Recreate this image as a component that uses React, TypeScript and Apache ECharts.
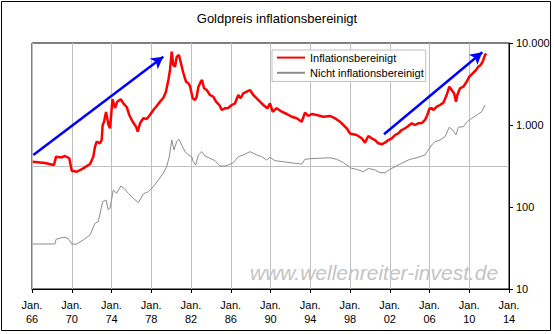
import React, { useEffect, useRef } from "react";
import * as echarts from "echarts";

const titleText = "Goldpreis inflationsbereinigt";
const seriesNames = ["Inflationsbereinigt", "Nicht inflationsbereinigt"];
const watermark = "www.wellenreiter-invest.de";

const xMin = 1966;
const xMax = 2014;
const xStep = 4;
const yMin = 10;
const yMax = 10000;
const refLevel = 316;

const realYears = [
  1966.07, 1967.31, 1968.21, 1968.42, 1968.99, 1969.32, 1969.75, 1970.0, 1970.5, 1971.16,
  1971.84, 1972.17, 1972.34, 1972.51, 1972.84, 1973.01, 1973.11, 1973.25, 1973.45, 1973.7,
  1973.85, 1974.1, 1974.35, 1974.58, 1974.93, 1975.19, 1975.53, 1975.79, 1976.13, 1976.47,
  1976.64, 1976.87, 1977.2, 1977.54, 1977.87, 1978.21, 1978.55, 1978.88, 1979.21, 1979.48,
  1979.72, 1979.89, 1980.06, 1980.22, 1980.39, 1980.56, 1980.79, 1980.99, 1981.23, 1981.5,
  1981.73, 1981.9, 1982.17, 1982.4, 1982.57, 1982.74, 1982.98, 1983.11, 1983.31, 1983.58,
  1983.91, 1984.24, 1984.52, 1984.85, 1985.09, 1985.42, 1985.75, 1986.1, 1986.43, 1986.76,
  1987.0, 1987.26, 1987.61, 1987.94, 1988.27, 1988.61, 1988.94, 1989.28, 1989.68, 1989.95,
  1990.22, 1990.62, 1991.13, 1991.63, 1992.13, 1992.64, 1993.14, 1993.47, 1993.8, 1994.15,
  1994.65, 1995.31, 1995.99, 1996.49, 1996.99, 1997.33, 1997.67, 1998.0, 1998.67, 1999.18,
  1999.51, 1999.84, 2000.18, 2000.52, 2000.85, 2001.19, 2001.52, 2001.86, 2002.2, 2002.53,
  2002.86, 2003.2, 2003.54, 2003.87, 2004.21, 2004.54, 2004.87, 2005.25, 2005.55, 2005.78,
  2005.98, 2006.22, 2006.38, 2006.73, 2007.06, 2007.39, 2007.73, 2007.99, 2008.23, 2008.47,
  2008.67, 2008.8, 2009.07, 2009.4, 2009.74, 2010.01, 2010.35, 2010.68, 2010.91, 2011.15,
  2011.35, 2011.59, 2011.69,
];
const realValues = [
  357, 344, 325, 411, 402, 419, 393, 277, 269, 296,
  334, 411, 544, 626, 598, 656, 1000, 1097, 1440, 1000,
  912, 2076, 1612, 1924, 2058, 1839, 1658, 1324, 1097, 954,
  829, 1049, 1207, 1184, 1324, 1524, 1705, 1924, 2135, 2547,
  3538, 4685, 7832, 5392, 5140, 6750, 7140, 5655, 4307, 3373,
  3225, 2989, 2117, 2018, 2214, 2906, 3373, 3538, 2803, 2672,
  2322, 2214, 1924, 1753, 1524, 1599, 1612, 1753, 1839, 2322,
  2117, 2436, 2547, 2672, 2322, 2117, 1924, 1753, 1599, 1839,
  1453, 1599, 1453, 1362, 1262, 1207, 1097, 1413, 1288, 1362,
  1324, 1262, 1288, 1207, 1097, 1000, 912, 788, 755, 688,
  608, 734, 688, 656, 598, 582, 608, 656, 688, 755,
  792, 869, 912, 972, 1049, 1000, 1049, 1058, 1151, 1324,
  1567, 1612, 1524, 1672, 1753, 1871, 2322, 2932, 2672, 2436,
  1924, 2322, 2803, 2932, 3373, 3882, 4271, 4685, 5140, 5392,
  5916, 7140, 7488,
];

const nominalYears = [
  1966.07, 1968.31, 1968.42, 1969.12, 1969.42, 1969.72, 1970.0, 1970.43, 1971.16, 1971.84,
  1972.34, 1972.67, 1973.11, 1973.45, 1973.68, 1973.85, 1974.18, 1974.52, 1974.93, 1975.26,
  1975.69, 1976.19, 1976.7, 1977.2, 1977.7, 1978.21, 1978.71, 1979.21, 1979.55, 1979.82,
  1980.06, 1980.29, 1980.56, 1980.79, 1981.06, 1981.4, 1981.73, 1982.07, 1982.23, 1982.47,
  1982.74, 1983.08, 1983.41, 1983.91, 1984.42, 1984.92, 1985.42, 1985.92, 1986.26, 1986.76,
  1987.26, 1987.94, 1988.61, 1989.11, 1989.62, 1989.95, 1990.45, 1991.29, 1991.96, 1993.14,
  1993.47, 1993.98, 1994.98, 1995.99, 1996.66, 1997.33, 1997.83, 1998.17, 1998.67, 1999.34,
  1999.84, 2000.52, 2001.02, 2001.52, 2002.03, 2002.53, 2003.03, 2003.54, 2004.04, 2004.54,
  2005.04, 2005.55, 2005.88, 2006.22, 2006.55, 2007.06, 2007.56, 2007.99, 2008.34, 2008.67,
  2008.9, 2009.4, 2009.8, 2010.25, 2010.75, 2011.25, 2011.59,
];
const nominalValues = [
  35.4, 35.4, 40.4, 42.7, 42.5, 40.1, 35.4, 35.1, 39.6, 45.6,
  63.3, 66.2, 116, 122, 91.9, 96.4, 161, 147, 180, 169,
  147, 128, 113, 144, 154, 177, 213, 258, 310, 411,
  656, 496, 626, 669, 570, 473, 431, 411, 357, 325,
  431, 473, 419, 393, 367, 316, 316, 332, 347, 411,
  431, 473, 431, 411, 374, 404, 367, 357, 347, 334,
  382, 388, 393, 399, 382, 347, 316, 296, 288, 269,
  296, 283, 262, 262, 288, 310, 334, 357, 382, 393,
  411, 431, 496, 570, 626, 656, 720, 938, 869, 755,
  938, 954, 1097, 1207, 1324, 1453, 1753,
];

// Trend arrows (annotation), in data coordinates
const arrowStarts = [
  [1966.13, 431],
  [2001.42, 770],
];
const arrowEnds = [
  [1979.21, 6808],
  [2011.31, 7702],
];

const FONT = '"Liberation Sans", Arial, sans-serif';

function fmtDe(v: number): string {
  return String(Math.round(v)).replace(/\B(?=(\d{3})+(?!\d))/g, ".");
}

export default function App() {
  const ref = useRef<HTMLDivElement>(null);
  useEffect(() => {
    document.body.style.margin = "0";
    if (!ref.current) return;
    const chart = echarts.init(ref.current, undefined, { renderer: "svg" });
    const realData = realYears.map((y, i) => [y, realValues[i]]);
    const nomData = nominalYears.map((y, i) => [y, nominalValues[i]]);
    chart.setOption({
      animation: false,
      backgroundColor: "#fff",
      textStyle: { fontFamily: FONT },
      title: {
        text: titleText,
        left: "center",
        top: 12,
        padding: 0,
        textStyle: { fontFamily: FONT, fontSize: 13, fontWeight: "normal", color: "#000" },
      },
      legend: {
        data: seriesNames,
        orient: "vertical",
        left: 272,
        top: 50,
        padding: [2, 2, 3, 4],
        itemWidth: 28,
        itemHeight: 14,
        itemGap: 4,
        itemTextGap: 2,
        itemStyle: { opacity: 0 },
        backgroundColor: "#fff",
        borderColor: "#c0c0c0",
        borderWidth: 1,
        textStyle: { fontFamily: FONT, fontSize: 11, color: "#000" },
      },
      grid: {
        left: 32,
        top: 43,
        right: 45,
        bottom: 45,
        show: true,
        borderColor: "#000",
        borderWidth: 1,
        backgroundColor: "transparent",
      },
      xAxis: {
        type: "value",
        min: xMin,
        max: xMax,
        interval: xStep,
        axisLine: { show: true, lineStyle: { color: "#000", width: 1 } },
        axisTick: { show: true, length: 4, lineStyle: { color: "#000" } },
        axisLabel: {
          margin: 9,
          fontFamily: FONT,
          fontSize: 11,
          color: "#000",
          lineHeight: 14,
          formatter: (v: number) => `Jan.\n${String(v % 100).padStart(2, "0")}`,
        },
        splitLine: { show: true, lineStyle: { color: "#c0c0c0", width: 1 } },
      },
      yAxis: {
        type: "log",
        logBase: 10,
        min: yMin,
        max: yMax,
        position: "right",
        axisLine: { show: true, lineStyle: { color: "#000", width: 1 } },
        axisTick: { show: true, length: 4, lineStyle: { color: "#000" } },
        axisLabel: {
          margin: 7,
          fontFamily: FONT,
          fontSize: 11,
          color: "#000",
          formatter: (v: number) => fmtDe(v),
        },
        splitLine: { show: false },
        minorTick: { show: false },
      },
      graphic: [
        {
          type: "rect",
          shape: { x: 1.5, y: 1.5, width: 549, height: 329 },
          style: { fill: "none", stroke: "#000", lineWidth: 1 },
          z: 100,
          silent: true,
        },
        {
          type: "text",
          x: 250,
          y: 272,
          z: 1,
          silent: true,
          style: {
            text: watermark,
            font: `italic 21px ${FONT}`,
            fill: "#c4c4c4",
            verticalAlign: "middle",
            align: "left",
          },
        },
      ],
      series: [
        {
          name: seriesNames[1],
          type: "line",
          data: nomData,
          symbol: "none",
          lineStyle: { color: "#8c8c8c", width: 1 },
          itemStyle: { color: "#8c8c8c" },
          z: 3,
          markLine: {
            silent: true,
            symbol: ["none", "none"],
            label: { show: false },
            lineStyle: { color: "#c0c0c0", width: 1, type: "solid" },
            data: [{ yAxis: refLevel }],
            z: 1,
          },
        },
        {
          name: seriesNames[0],
          type: "line",
          data: realData,
          symbol: "none",
          lineStyle: { color: "#ff0000", width: 2.5 },
          itemStyle: { color: "#ff0000" },
          z: 4,
          markLine: {
            silent: true,
            symbol: ["none", "arrow"],
            symbolSize: [10, 12],
            label: { show: false },
            lineStyle: { color: "#0000ff", width: 2.5, type: "solid" },
            data: arrowStarts.map((s, i) => [{ coord: s }, { coord: arrowEnds[i] }]),
          },
        },
      ],
    });
    return () => chart.dispose();
  }, []);
  return <div ref={ref} style={{ width: 554, height: 334 }} />;
}
